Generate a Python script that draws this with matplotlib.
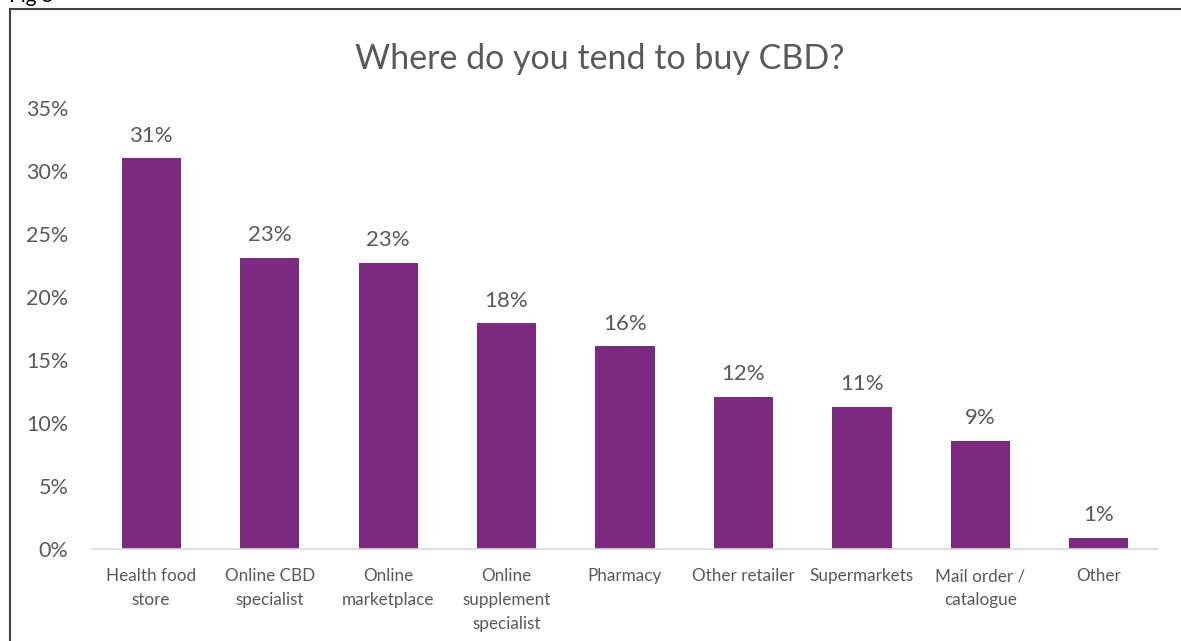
import matplotlib
matplotlib.use("Agg")
import matplotlib.pyplot as plt
from matplotlib.lines import Line2D

categories = [
    "Health food\nstore",
    "Online CBD\nspecialist",
    "Online\nmarketplace",
    "Online\nsupplement\nspecialist",
    "Pharmacy",
    "Other retailer",
    "Supermarkets",
    "Mail order /\ncatalogue",
    "Other",
]
shares = [31.0, 23.1, 22.7, 17.9, 16.1, 12.1, 11.3, 8.6, 0.9]
y_ticks = [0, 5, 10, 15, 20, 25, 30, 35]

plt.rcParams["font.family"] = ["Lato", "DejaVu Sans"]
TEXT = "#595959"
BAR = "#7b2a80"

W, H = 1181, 641
fig = plt.figure(figsize=(W / 100, H / 100), dpi=100)
ax = fig.add_axes([92 / W, (H - 549) / H, 1066 / W, 441 / H])

x = range(len(categories))
bars = ax.bar(x, shares, width=0.5, color=BAR, zorder=2)
for xi, v in zip(x, shares):
    ax.annotate(f"{v:.0f}%", (xi, v), xytext=(0, 9), textcoords="offset points",
                ha="center", va="bottom", fontsize=16, color=TEXT)

ax.set_xlim(-0.5, len(categories) - 0.5)
ax.set_ylim(0, 35)
ax.set_yticks(y_ticks)
ax.set_yticklabels([f"{t}%" for t in y_ticks])
ax.set_xticks(list(x))
ax.set_xticklabels(categories, fontsize=12.3, color=TEXT, linespacing=1.6)
ax.tick_params(axis="y", length=0, pad=17, labelsize=15.5, labelcolor=TEXT)
ax.tick_params(axis="x", length=0, pad=14)
for s in ["top", "right", "left"]:
    ax.spines[s].set_visible(False)
ax.spines["bottom"].set_color("#d9d9d9")
ax.spines["bottom"].set_linewidth(1.2)

fig.text(600 / W, 1 - 59 / H, "Where do you tend to buy CBD?", ha="center", va="center",
         fontsize=24.5, color=TEXT)

# frame around the chart (left and top edges)
fig.add_artist(Line2D([10 / W, 10 / W], [0, 1 - 9 / H], transform=fig.transFigure,
                      color="#404040", lw=1.5))
fig.add_artist(Line2D([10 / W, 1], [1 - 9 / H, 1 - 9 / H], transform=fig.transFigure,
                      color="#404040", lw=1.5))
fig.text(9 / W, 1 - 2 / H, "Fig 5", ha="left", va="baseline", fontsize=15, color="#000000")

fig.savefig("out.png", dpi=100)
